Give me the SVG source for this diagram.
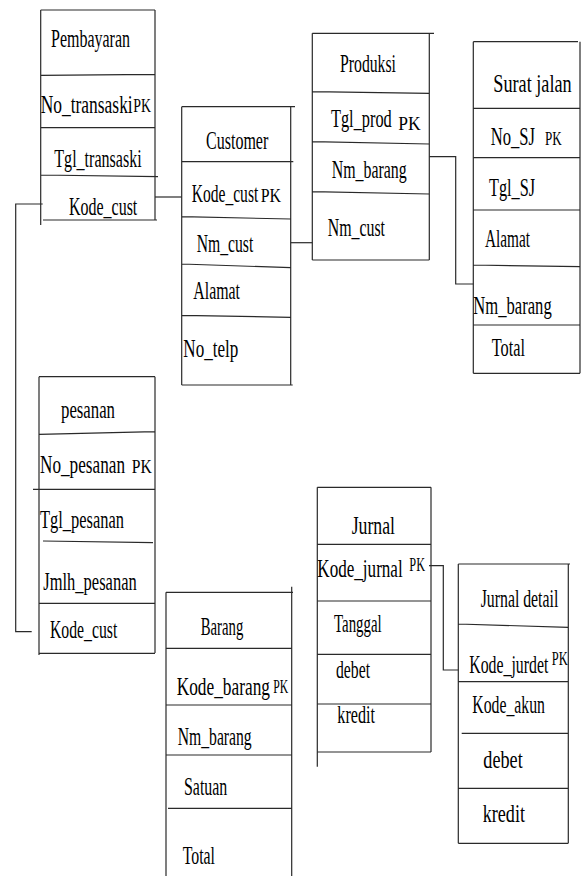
<svg xmlns="http://www.w3.org/2000/svg" width="582" height="876" viewBox="0 0 582 876">
  <style>
    .bg { fill: #ffffff; }
    .box { fill: none; stroke: #2a2a2a; stroke-width: 1.2; }
    .wire { fill: none; stroke: #2a2a2a; stroke-width: 1.2; }
    .t { font-family: "Liberation Serif", "Times New Roman", serif; font-size: 25px; fill: #000000; }
    .pk { font-size: 19px; }
  </style>
  <rect class="bg" x="0" y="0" width="582" height="876"/>

  <!-- Pembayaran table -->
  <g id="pembayaran">
    <path class="box" d="M40.7 10 V225 M155 10 V220 M40.7 10 H155 M40.7 75.3 L155 74.3 M40.7 127.7 H155 M40.7 175 L158 176.7 M43 220 H157"/>
    <text class="t" x="51" y="47" textLength="79" lengthAdjust="spacingAndGlyphs">Pembayaran</text>
    <text class="t" x="40.7" y="112.5" textLength="92" lengthAdjust="spacingAndGlyphs">No_transaski</text>
    <text class="t pk" x="133.3" y="112" textLength="17.7" lengthAdjust="spacingAndGlyphs">PK</text>
    <text class="t" x="54.3" y="166.5" textLength="87.4" lengthAdjust="spacingAndGlyphs">Tgl_transaski</text>
    <text class="t" x="69" y="215" textLength="68.3" lengthAdjust="spacingAndGlyphs">Kode_cust</text>
  </g>

  <!-- Customer table -->
  <g id="customer">
    <path class="box" d="M181.7 106.7 V385 M290.7 106.7 V385 M181.7 106.7 H295 M181.7 161.7 H293.3 M181.7 216.7 L290.7 219 M181.7 264 L290.7 267.7 M181.7 315.3 L290.7 317.3 M181.7 385 H292.7"/>
    <text class="t" x="206" y="149" textLength="62.3" lengthAdjust="spacingAndGlyphs">Customer</text>
    <text class="t" x="191.7" y="201.7" textLength="66.6" lengthAdjust="spacingAndGlyphs">Kode_cust</text>
    <text class="t pk" x="260.7" y="202" textLength="20.3" lengthAdjust="spacingAndGlyphs">PK</text>
    <text class="t" x="196.7" y="251.7" textLength="56.6" lengthAdjust="spacingAndGlyphs">Nm_cust</text>
    <text class="t" x="193.3" y="298.5" textLength="46.7" lengthAdjust="spacingAndGlyphs">Alamat</text>
    <text class="t" x="183.3" y="356.7" textLength="55" lengthAdjust="spacingAndGlyphs">No_telp</text>
  </g>

  <!-- Produksi table -->
  <g id="produksi">
    <path class="box" d="M312.3 33.3 V260 M429.3 33.3 V260 M312.3 33.3 H434 M312.3 91.7 L429.3 93.3 M312.3 141.7 L429.3 144 M312.3 191.7 L429.3 194 M312.3 260 H429.3"/>
    <text class="t" x="340" y="71.7" textLength="56" lengthAdjust="spacingAndGlyphs">Produksi</text>
    <text class="t" x="331" y="127" textLength="60.7" lengthAdjust="spacingAndGlyphs">Tgl_prod</text>
    <text class="t pk" x="398.3" y="130" textLength="22.4" lengthAdjust="spacingAndGlyphs">PK</text>
    <text class="t" x="331.7" y="178.3" textLength="75" lengthAdjust="spacingAndGlyphs">Nm_barang</text>
    <text class="t" x="327.7" y="236" textLength="57.3" lengthAdjust="spacingAndGlyphs">Nm_cust</text>
  </g>

  <!-- Surat jalan table -->
  <g id="surat-jalan">
    <path class="box" d="M473.3 41.7 V373.3 M580 41.7 V373.3 M473.3 41.7 H578 M473.3 108.3 H580 M473.3 157.7 H580 M473.3 210 H580 M473.3 265 L580 266.7 M473.3 325 H580 M473.3 373.3 H580"/>
    <text class="t" x="493.3" y="91.7" textLength="78.4" lengthAdjust="spacingAndGlyphs">Surat jalan</text>
    <text class="t" x="490.7" y="145" textLength="44.3" lengthAdjust="spacingAndGlyphs">No_SJ</text>
    <text class="t pk" x="545" y="145" textLength="16.7" lengthAdjust="spacingAndGlyphs">PK</text>
    <text class="t" x="489" y="195.5" textLength="46" lengthAdjust="spacingAndGlyphs">Tgl_SJ</text>
    <text class="t" x="485" y="246.7" textLength="45" lengthAdjust="spacingAndGlyphs">Alamat</text>
    <text class="t" x="473.3" y="314" textLength="78.4" lengthAdjust="spacingAndGlyphs">Nm_barang</text>
    <text class="t" x="491.7" y="356" textLength="33.3" lengthAdjust="spacingAndGlyphs">Total</text>
  </g>

  <!-- pesanan table -->
  <g id="pesanan">
    <path class="box" d="M39 376.7 V655 M155 376.7 V653 M39 376.7 H155 M39 434.3 L155 431.7 M33 489.3 H155 M43 541 L153 542.7 M39 603.3 H155 M39 653.3 H155"/>
    <text class="t" x="61" y="418" textLength="54" lengthAdjust="spacingAndGlyphs">pesanan</text>
    <text class="t" x="40" y="473" textLength="85" lengthAdjust="spacingAndGlyphs">No_pesanan</text>
    <text class="t pk" x="131.7" y="473" textLength="20" lengthAdjust="spacingAndGlyphs">PK</text>
    <text class="t" x="40" y="528" textLength="84" lengthAdjust="spacingAndGlyphs">Tgl_pesanan</text>
    <text class="t" x="43.3" y="590" textLength="93.4" lengthAdjust="spacingAndGlyphs">Jmlh_pesanan</text>
    <text class="t" x="50" y="638" textLength="67.3" lengthAdjust="spacingAndGlyphs">Kode_cust</text>
  </g>

  <!-- Barang table -->
  <g id="barang">
    <path class="box" d="M166 592.3 V876 M291.7 586.7 V876 M166 592.3 H293 M166 648.3 H291.7 M166 705 H291.7 M166 755 H291.7 M168 808.3 H292"/>
    <text class="t" x="200.7" y="635" textLength="42.6" lengthAdjust="spacingAndGlyphs">Barang</text>
    <text class="t" x="176.7" y="695" textLength="93.3" lengthAdjust="spacingAndGlyphs">Kode_barang</text>
    <text class="t pk" x="273.3" y="693.3" textLength="15" lengthAdjust="spacingAndGlyphs">PK</text>
    <text class="t" x="177.7" y="745" textLength="74" lengthAdjust="spacingAndGlyphs">Nm_barang</text>
    <text class="t" x="184" y="795" textLength="43.3" lengthAdjust="spacingAndGlyphs">Satuan</text>
    <text class="t" x="182.7" y="864" textLength="32.3" lengthAdjust="spacingAndGlyphs">Total</text>
  </g>

  <!-- Jurnal table -->
  <g id="jurnal">
    <path class="box" d="M317.3 487.3 V766.7 M431 487.3 V752 M317.3 487.3 H431 M317.3 544.3 H431 M317.3 601 H431 M317.3 654.3 H431 M317.3 704 H431 M317.3 752 H431"/>
    <text class="t" x="351.7" y="534" textLength="43.3" lengthAdjust="spacingAndGlyphs">Jurnal</text>
    <text class="t" x="317.3" y="576.7" textLength="85.4" lengthAdjust="spacingAndGlyphs">Kode_jurnal</text>
    <text class="t pk" x="409.3" y="570.7" textLength="15.7" lengthAdjust="spacingAndGlyphs">PK</text>
    <text class="t" x="334" y="631.7" textLength="47.7" lengthAdjust="spacingAndGlyphs">Tanggal</text>
    <text class="t" x="336" y="678.3" textLength="34" lengthAdjust="spacingAndGlyphs">debet</text>
    <text class="t" x="337.3" y="723.3" textLength="37.7" lengthAdjust="spacingAndGlyphs">kredit</text>
  </g>

  <!-- Jurnal detail table -->
  <g id="jurnal-detail">
    <path class="box" d="M458.3 564 V843.3 M568.3 564 V843.3 M458.3 564 H570 M458.3 624 L568.3 627.3 M458.3 681.7 H568.3 M461.7 733.3 H568.3 M458.3 788.3 H568.3 M458.3 843.3 H568.3"/>
    <text class="t" x="480.7" y="606.7" textLength="77.6" lengthAdjust="spacingAndGlyphs">Jurnal detail</text>
    <text class="t" x="469.3" y="673" textLength="79" lengthAdjust="spacingAndGlyphs">Kode_jurdet</text>
    <text class="t pk" x="551.7" y="665" textLength="16" lengthAdjust="spacingAndGlyphs">PK</text>
    <text class="t" x="472.3" y="713.3" textLength="72.7" lengthAdjust="spacingAndGlyphs">Kode_akun</text>
    <text class="t" x="483.3" y="768.3" textLength="39.4" lengthAdjust="spacingAndGlyphs">debet</text>
    <text class="t" x="482.7" y="821.7" textLength="42.3" lengthAdjust="spacingAndGlyphs">kredit</text>
  </g>

  <!-- Relationship connectors -->
  <g id="connectors">
    <path class="wire" d="M155 197 H181.7"/>
    <path class="wire" d="M42.7 204 H15.7 V631.7 H31.7"/>
    <path class="wire" d="M290.7 242.7 H312.3"/>
    <path class="wire" d="M429.3 156.7 H455.7 V284 H473.3"/>
    <path class="wire" d="M429 565.7 H443.3 V670 H458.3"/>
  </g>
</svg>
